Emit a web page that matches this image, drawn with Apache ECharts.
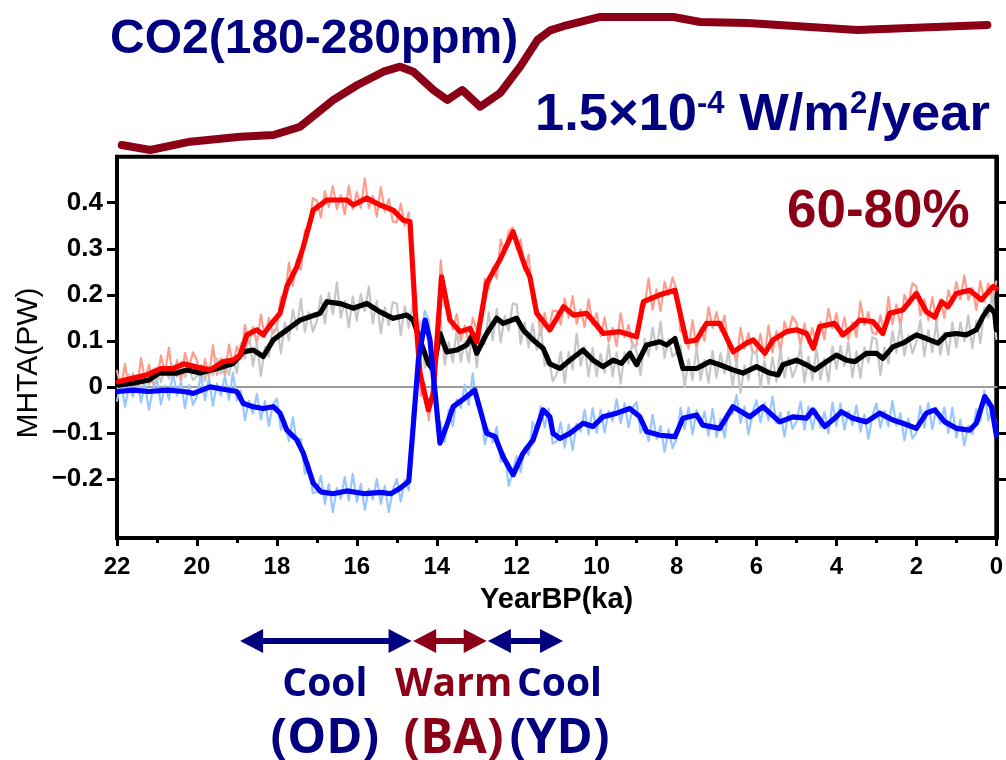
<!DOCTYPE html>
<html>
<head>
<meta charset="utf-8">
<script src="https://cdn.jsdelivr.net/npm/echarts@6/dist/echarts.min.js"></script>
<style>
  html, body { margin: 0; padding: 0; background: #fff; }
  #chart { width: 1006px; height: 760px; }
</style>
</head>
<body>
<div id="chart"></div>
<script>
// ---- data -------------------------------------------------------------
// MHTA tick values (PW)
const yTicks = [-0.2, -0.1, 0, 0.1, 0.2, 0.3, 0.4];

// CO2 forcing curve (ka BP, ppm)
const co2Ka  = [21.88, 21.17, 20.17, 18.92, 18.09, 17.42, 16.59, 15.99, 15.34, 14.92, 14.59, 14.09, 13.74, 13.37, 12.92, 12.42, 11.92, 11.49, 11.17, 10.84, 9.92, 8.09, 7.42, 6.24, 3.49, 0.24];
const co2Ppm = [187.1, 183.6, 189.5, 193.1, 194.3, 200.2, 219.3, 230.0, 239.5, 243.1, 239.5, 226.4, 219.3, 226.4, 214.5, 224.3, 243.1, 262.1, 269.0, 272.0, 278.6, 278.6, 275.0, 274.3, 269.3, 272.9];

// Smoothed MHTA curves: [ka BP, PW]
const redMean = [[21.97,0.011],[21.6,0.019],[21.26,0.026],[20.88,0.040],[20.58,0.040],[20.33,0.050],[20.0,0.043],[19.67,0.037],[19.34,0.055],[19.09,0.058],[18.92,0.069],[18.75,0.113],[18.5,0.124],[18.34,0.113],[18.17,0.134],[17.92,0.160],[17.75,0.218],[17.5,0.261],[17.34,0.304],[17.09,0.384],[16.75,0.406],[16.25,0.406],[16.09,0.395],[15.75,0.410],[15.42,0.395],[15.09,0.384],[14.84,0.362],[14.67,0.359],[14.54,0.167],[14.42,0.030],[14.21,-0.050],[14.09,-0.014],[13.88,0.239],[13.67,0.145],[13.42,0.120],[13.17,0.127],[13.0,0.098],[12.75,0.225],[12.42,0.276],[12.09,0.337],[11.79,0.261],[11.67,0.239],[11.5,0.160],[11.17,0.124],[10.83,0.174],[10.58,0.156],[10.25,0.160],[9.83,0.116],[9.42,0.120],[9.0,0.109],[8.83,0.185],[8.42,0.200],[8.04,0.210],[7.75,0.098],[7.5,0.102],[7.25,0.138],[6.92,0.138],[6.58,0.076],[6.25,0.095],[6.08,0.102],[5.79,0.073],[5.59,0.102],[5.25,0.120],[5.0,0.124],[4.75,0.116],[4.58,0.084],[4.42,0.131],[4.05,0.138],[3.84,0.113],[3.58,0.131],[3.42,0.145],[3.09,0.142],[2.84,0.116],[2.67,0.160],[2.34,0.167],[2.0,0.203],[1.75,0.163],[1.54,0.152],[1.37,0.185],[1.21,0.174],[1.0,0.203],[0.67,0.210],[0.37,0.189],[0.08,0.218],[0.0,0.214]];

const blackMean = [[21.97,0.004],[21.6,0.008],[21.2,0.015],[20.95,0.030],[20.5,0.030],[20.25,0.037],[19.92,0.030],[19.5,0.040],[19.09,0.051],[18.84,0.076],[18.59,0.080],[18.34,0.066],[18.09,0.102],[17.75,0.124],[17.42,0.145],[16.92,0.160],[16.75,0.185],[16.42,0.181],[16.09,0.171],[15.75,0.181],[15.42,0.163],[15.09,0.149],[14.75,0.156],[14.59,0.145],[14.42,0.102],[14.21,0.051],[14.09,0.037],[13.92,0.116],[13.75,0.076],[13.5,0.080],[13.25,0.091],[13.13,0.109],[13.0,0.073],[12.75,0.116],[12.5,0.149],[12.34,0.138],[12.0,0.149],[11.84,0.124],[11.59,0.102],[11.34,0.084],[11.17,0.050],[10.92,0.040],[10.67,0.058],[10.34,0.080],[10.09,0.058],[9.84,0.044],[9.59,0.058],[9.38,0.051],[9.17,0.073],[9.0,0.048],[8.75,0.091],[8.42,0.098],[8.25,0.091],[8.04,0.105],[7.84,0.040],[7.5,0.040],[7.17,0.055],[6.92,0.048],[6.59,0.037],[6.34,0.030],[6.0,0.044],[5.67,0.030],[5.46,0.026],[5.34,0.048],[5.0,0.058],[4.75,0.048],[4.54,0.037],[4.25,0.055],[4.0,0.069],[3.75,0.058],[3.54,0.055],[3.25,0.073],[3.0,0.073],[2.84,0.062],[2.59,0.087],[2.34,0.095],[2.0,0.113],[1.75,0.105],[1.46,0.095],[1.25,0.113],[1.0,0.116],[0.75,0.113],[0.5,0.124],[0.34,0.152],[0.17,0.174],[0.04,0.160],[0.0,0.124]];

const blueMean = [[21.97,-0.010],[21.6,-0.007],[21.2,-0.010],[20.75,-0.007],[20.33,-0.010],[20.09,-0.014],[19.67,0.000],[19.34,-0.005],[19.0,-0.010],[18.84,-0.036],[18.59,-0.043],[18.34,-0.047],[18.09,-0.043],[17.92,-0.057],[17.75,-0.094],[17.5,-0.115],[17.34,-0.144],[17.09,-0.209],[16.9,-0.228],[16.6,-0.232],[16.25,-0.226],[15.8,-0.232],[15.4,-0.229],[15.15,-0.232],[14.95,-0.222],[14.8,-0.212],[14.7,-0.205],[14.59,-0.086],[14.46,0.058],[14.29,0.145],[14.17,0.102],[14.04,-0.014],[13.92,-0.122],[13.76,-0.086],[13.59,-0.043],[13.25,-0.021],[13.05,-0.007],[12.75,-0.101],[12.54,-0.108],[12.34,-0.152],[12.09,-0.191],[11.84,-0.144],[11.59,-0.115],[11.34,-0.050],[11.17,-0.065],[11.09,-0.101],[10.92,-0.112],[10.67,-0.101],[10.34,-0.079],[10.09,-0.086],[9.84,-0.065],[9.5,-0.057],[9.17,-0.047],[8.92,-0.065],[8.75,-0.097],[8.42,-0.105],[8.04,-0.108],[7.84,-0.068],[7.5,-0.061],[7.34,-0.083],[6.92,-0.090],[6.59,-0.043],[6.17,-0.065],[5.84,-0.043],[5.42,-0.076],[5.09,-0.065],[4.75,-0.068],[4.59,-0.050],[4.29,-0.086],[4.0,-0.065],[3.88,-0.054],[3.59,-0.068],[3.25,-0.076],[2.92,-0.057],[2.59,-0.072],[2.34,-0.079],[2.0,-0.090],[1.75,-0.057],[1.54,-0.050],[1.29,-0.076],[1.0,-0.090],[0.67,-0.094],[0.5,-0.079],[0.29,-0.021],[0.12,-0.043],[0.0,-0.105]];

// Unsmoothed MHTA, sampled every 0.1 ka from 22 ka to 0 ka (one row per ka)
const noisyRed = [
  0.035, -0.003, 0.050, -0.003, 0.029, -0.009, 0.063, 0.015, 0.048, 0.006,
  0.015, 0.068, 0.030, 0.085, 0.015, 0.058, 0.012, 0.074, 0.042, 0.075,
  0.058, 0.011, 0.060, 0.023, 0.090, 0.026, 0.062, 0.025, 0.092, 0.048,
  0.088, 0.060, 0.135, 0.095, 0.130, 0.094, 0.157, 0.108, 0.150, 0.115,
  0.130, 0.195, 0.190, 0.270, 0.220, 0.276, 0.255, 0.340, 0.345, 0.410,
  0.405, 0.368, 0.425, 0.391, 0.436, 0.386, 0.416, 0.375, 0.437, 0.386,
  0.423, 0.389, 0.453, 0.389, 0.415, 0.370, 0.434, 0.381, 0.408, 0.359,
  0.358, 0.398, 0.350, 0.379, 0.245, 0.135, -0.020, 0.005, -0.073, 0.010,
  0.110, 0.275, 0.175, 0.175, 0.125, 0.158, 0.100, 0.133, 0.096, 0.150,
  0.123, 0.135, 0.235, 0.212, 0.260, 0.235, 0.320, 0.290, 0.338, 0.346,
  0.300, 0.320, 0.252, 0.287, 0.190, 0.175, 0.113, 0.160, 0.120, 0.165,
  0.165, 0.135, 0.192, 0.150, 0.197, 0.137, 0.168, 0.130, 0.190, 0.135,
  0.160, 0.110, 0.151, 0.097, 0.128, 0.089, 0.160, 0.108, 0.135, 0.087,
  0.090, 0.180, 0.177, 0.235, 0.168, 0.212, 0.165, 0.228, 0.200, 0.238,
  0.210, 0.120, 0.130, 0.083, 0.145, 0.082, 0.128, 0.100, 0.173, 0.128,
  0.163, 0.121, 0.155, 0.080, 0.088, 0.052, 0.128, 0.083, 0.117, 0.076,
  0.075, 0.115, 0.063, 0.133, 0.075, 0.121, 0.077, 0.142, 0.116, 0.153,
  0.139, 0.091, 0.138, 0.095, 0.128, 0.090, 0.141, 0.103, 0.170, 0.127,
  0.160, 0.110, 0.151, 0.103, 0.140, 0.108, 0.185, 0.134, 0.163, 0.117,
  0.115, 0.155, 0.115, 0.195, 0.136, 0.179, 0.131, 0.200, 0.180, 0.225,
  0.218, 0.155, 0.190, 0.145, 0.195, 0.140, 0.190, 0.150, 0.210, 0.180,
  0.228, 0.190, 0.242, 0.189, 0.215, 0.167, 0.230, 0.185, 0.225, 0.190,
  0.229
];
const noisyBlack = [
  -0.011, 0.018, -0.002, 0.027, -0.010, 0.020, -0.010, 0.020, 0.005, 0.038,
  0.042, 0.010, 0.040, 0.018, 0.048, 0.022, 0.055, 0.021, 0.041, 0.015,
  0.023, 0.048, 0.013, 0.045, 0.026, 0.062, 0.028, 0.050, 0.026, 0.063,
  0.030, 0.095, 0.062, 0.118, 0.045, 0.095, 0.024, 0.087, 0.066, 0.136,
  0.137, 0.073, 0.140, 0.102, 0.168, 0.125, 0.191, 0.119, 0.162, 0.120,
  0.143, 0.198, 0.138, 0.204, 0.158, 0.227, 0.150, 0.187, 0.129, 0.196,
  0.144, 0.202, 0.165, 0.218, 0.138, 0.187, 0.117, 0.173, 0.134, 0.184,
  0.181, 0.113, 0.175, 0.128, 0.180, 0.107, 0.142, 0.042, 0.059, 0.003,
  0.065, 0.145, 0.048, 0.097, 0.053, 0.125, 0.055, 0.099, 0.053, 0.128,
  0.043, 0.115, 0.093, 0.162, 0.101, 0.169, 0.097, 0.154, 0.122, 0.181,
  0.179, 0.093, 0.140, 0.086, 0.137, 0.081, 0.134, 0.046, 0.066, 0.012,
  0.028, 0.076, 0.009, 0.076, 0.038, 0.115, 0.046, 0.087, 0.023, 0.084,
  0.023, 0.072, 0.031, 0.092, 0.023, 0.075, 0.007, 0.075, 0.050, 0.097,
  0.078, 0.025, 0.104, 0.067, 0.129, 0.081, 0.142, 0.063, 0.103, 0.066,
  0.075, 0.090, 0.000, 0.060, 0.015, 0.085, 0.015, 0.059, 0.009, 0.078,
  0.020, 0.073, 0.029, 0.081, 0.002, 0.055, -0.013, 0.046, 0.015, 0.075,
  0.074, 0.000, 0.056, 0.006, 0.064, 0.012, 0.081, 0.020, 0.063, 0.021,
  0.043, 0.089, 0.010, 0.066, 0.015, 0.084, 0.016, 0.062, 0.012, 0.088,
  0.039, 0.089, 0.045, 0.098, 0.021, 0.077, 0.019, 0.086, 0.053, 0.108,
  0.103, 0.026, 0.086, 0.051, 0.121, 0.074, 0.138, 0.068, 0.113, 0.073,
  0.098, 0.145, 0.067, 0.123, 0.075, 0.141, 0.070, 0.118, 0.069, 0.140,
  0.086, 0.140, 0.099, 0.155, 0.084, 0.144, 0.095, 0.172, 0.150, 0.203,
  0.104
];
const noisyBlue = [
  -0.030, 0.011, -0.043, 0.002, -0.021, 0.022, -0.034, 0.005, -0.050, -0.004,
  0.016, -0.038, 0.003, -0.028, 0.032, -0.019, 0.011, -0.046, 0.004, -0.039,
  -0.021, 0.027, -0.029, 0.019, -0.041, 0.007, -0.019, 0.024, -0.028, 0.031,
  -0.030, -0.008, -0.072, -0.030, -0.058, -0.015, -0.071, -0.031, -0.085, -0.038,
  -0.025, -0.093, -0.073, -0.118, -0.066, -0.125, -0.113, -0.189, -0.165, -0.231,
  -0.228, -0.193, -0.254, -0.211, -0.272, -0.220, -0.243, -0.196, -0.247, -0.189,
  -0.250, -0.211, -0.267, -0.221, -0.245, -0.200, -0.254, -0.215, -0.272, -0.225,
  -0.200, -0.249, -0.202, -0.225, -0.056, 0.005, 0.110, 0.165, 0.145, 0.035,
  -0.060, -0.080, -0.120, -0.050, -0.085, -0.027, -0.046, 0.005, -0.039, 0.029,
  -0.040, -0.040, -0.125, -0.092, -0.121, -0.087, -0.163, -0.145, -0.215, -0.184,
  -0.150, -0.185, -0.130, -0.148, -0.076, -0.100, -0.042, -0.088, -0.047, -0.123,
  -0.118, -0.077, -0.132, -0.082, -0.137, -0.080, -0.097, -0.050, -0.103, -0.046,
  -0.100, -0.050, -0.099, -0.052, -0.074, -0.027, -0.079, -0.036, -0.088, -0.045,
  -0.033, -0.100, -0.080, -0.118, -0.061, -0.113, -0.085, -0.141, -0.092, -0.133,
  -0.113, -0.045, -0.092, -0.045, -0.103, -0.051, -0.085, -0.054, -0.106, -0.048,
  -0.109, -0.069, -0.110, -0.050, -0.059, -0.018, -0.078, -0.043, -0.103, -0.055,
  -0.029, -0.077, -0.035, -0.073, -0.021, -0.079, -0.056, -0.108, -0.054, -0.091,
  -0.076, -0.032, -0.093, -0.043, -0.092, -0.051, -0.088, -0.055, -0.101, -0.034,
  -0.085, -0.036, -0.093, -0.053, -0.083, -0.040, -0.097, -0.060, -0.113, -0.062,
  -0.036, -0.088, -0.052, -0.086, -0.031, -0.084, -0.057, -0.116, -0.069, -0.112,
  -0.100, -0.042, -0.089, -0.035, -0.092, -0.045, -0.080, -0.045, -0.100, -0.045,
  -0.110, -0.071, -0.127, -0.084, -0.103, -0.049, -0.075, -0.008, -0.073, -0.045,
  -0.080
];

// Reference level of zero transport
const zeroLine = [[22, 0], [0, 0]];

// Climate intervals marked under the time axis (ka BP)
const periods = [
  { name: 'Cool', tag: '(OD)', from: 18.92, to: 14.63, labelAt: 16.8,  color: '#000080' },
  { name: 'Warm', tag: '(BA)', from: 14.59, to: 12.75, labelAt: 13.58, color: '#8B0016' },
  { name: 'Cool', tag: '(YD)', from: 12.72, to: 10.84, labelAt: 10.93, color: '#000080' }
];

// ---- chart ------------------------------------------------------------
const FONT = '"Liberation Sans", Arial, Helvetica, sans-serif';
const OPEN = '"Open Sans", "Noto Sans", sans-serif';
const NAVY = '#000080';
const MAROON = '#8B0016';

const sampleKa = noisyRed.map((_, i) => +(22 - 0.1 * i).toFixed(1));
const zip = (xs, ys) => xs.map((x, i) => [x, ys[i]]);

const chart = echarts.init(document.getElementById('chart'), null, { renderer: 'canvas' });

function lineSeries(data, color, width, z) {
  return {
    type: 'line', xAxisIndex: 0, yAxisIndex: 0, data: data,
    showSymbol: false, symbol: 'none', silent: true, z: z,
    lineStyle: { color: color, width: width, join: 'round', cap: 'round' }
  };
}

const yAxisBase = {
  gridIndex: 0, type: 'value', min: -0.328, max: 0.5,
  axisLine: { show: true, onZero: false, lineStyle: { color: '#000', width: 4 } },
  axisTick: { show: true, customValues: yTicks, length: 10, lineStyle: { color: '#000', width: 3 } },
  splitLine: { show: false }
};

chart.setOption({
  animation: false,
  backgroundColor: '#fff',
  grid: [
    { left: 117, width: 880, top: 156.7, height: 381.2, show: true,
      borderColor: '#000', borderWidth: 4, backgroundColor: 'transparent' },
    { left: 117, width: 880, top: 1, height: 168 }
  ],
  xAxis: [
    {
      gridIndex: 0, type: 'value', min: 0, max: 22, interval: 2, inverse: true,
      axisLine: { onZero: false, lineStyle: { color: '#000', width: 4 } },
      axisTick: { length: 8, lineStyle: { color: '#000', width: 3 } },
      minorTick: { show: true, splitNumber: 2, length: 5, lineStyle: { color: '#000', width: 3 } },
      axisLabel: { margin: 17, fontSize: 24, fontWeight: 'bold', color: '#000', fontFamily: FONT },
      splitLine: { show: false },
      name: 'YearBP(ka)', nameLocation: 'middle', nameGap: 48,
      nameTextStyle: { fontSize: 29, fontWeight: 'bold', color: '#000', fontFamily: FONT }
    },
    { gridIndex: 1, type: 'value', min: 0, max: 22, inverse: true, show: false }
  ],
  yAxis: [
    Object.assign({}, yAxisBase, {
      position: 'left',
      axisLabel: { customValues: yTicks, margin: 14, fontSize: 26, fontWeight: 'bold',
        color: '#000', fontFamily: FONT, padding: [4, 0, 0, 0],
        formatter: v => (v < 0 ? '\u2212' + String(-v) : String(v)) }
    }),
    Object.assign({}, yAxisBase, { position: 'right', axisLabel: { show: false } }),
    { gridIndex: 1, type: 'value', min: 170, max: 290, show: false }
  ],
  series: [
    lineSeries(zeroLine, '#9A9A9A', 2, 1),
    lineSeries(zip(sampleKa, noisyRed), '#FF9C8E', 2.2, 2),
    lineSeries(zip(sampleKa, noisyBlack), '#C6C6C6', 2.2, 2),
    lineSeries(zip(sampleKa, noisyBlue), '#98C6FF', 2.2, 2),
    lineSeries(blackMean, '#000000', 5.2, 3),
    lineSeries(redMean, '#FF0000', 5.2, 4),
    lineSeries(blueMean, '#0000FF', 5.2, 5),
    {
      type: 'line', xAxisIndex: 1, yAxisIndex: 2, data: zip(co2Ka, co2Ppm),
      showSymbol: false, symbol: 'none', silent: true, z: 3,
      lineStyle: { color: MAROON, width: 8, join: 'round', cap: 'round' }
    }
  ]
});

// ---- annotations ------------------------------------------------------
const px = ka => chart.convertToPixel({ xAxisIndex: 0 }, ka);

function arrow(x1, x2, y, color) {
  const L = 23, H = 12, t = 3;
  return {
    type: 'polygon', silent: true, z: 10,
    shape: { points: [
      [x1, y], [x1 + L, y - H], [x1 + L, y - t], [x2 - L, y - t], [x2 - L, y - H],
      [x2, y], [x2 - L, y + H], [x2 - L, y + t], [x1 + L, y + t], [x1 + L, y + H]
    ] },
    style: { fill: color }
  };
}

function label(x, y, text, size, color, family, weight, align) {
  return {
    type: 'text', x: x, y: y, silent: true, z: 10,
    style: { text: text, fill: color, fontSize: size, fontFamily: family,
      fontWeight: weight || 'bold', align: align || 'left', verticalAlign: 'middle' }
  };
}

const graphics = [
  label(110, 40, 'CO2(180-280ppm)', 48, NAVY, FONT),
  {
    type: 'text', x: 535, y: 115.5, silent: true, z: 10,
    style: {
      text: '{m|1.5×10}{s|-4}{m| W/m}{s|2}{m|/year}',
      verticalAlign: 'middle', align: 'left',
      rich: {
        m: { fontSize: 52.5, fontWeight: 'bold', fontFamily: FONT, fill: NAVY },
        s: { fontSize: 31, fontWeight: 'bold', fontFamily: FONT, fill: NAVY, verticalAlign: 'top' }
      }
    }
  },
  label(787, 212, '60-80%', 53, MAROON, FONT),
  {
    type: 'text', x: 29, y: 363, rotation: Math.PI / 2, silent: true, z: 10,
    style: { text: 'MHTA(PW)', fill: '#000', fontSize: 30, fontFamily: FONT,
      fontWeight: 'normal', align: 'center', verticalAlign: 'middle' }
  }
];

periods.forEach(p => {
  graphics.push(arrow(px(p.from), px(p.to), 641, p.color));
  const cx = px(p.labelAt);
  graphics.push(label(cx, 685, p.name, 39, p.color, OPEN, 'bold', 'center'));
  graphics.push(label(cx, 739, p.tag, 49, p.color, OPEN, 'bold', 'center'));
});

chart.setOption({ graphic: graphics });
</script>
</body>
</html>
